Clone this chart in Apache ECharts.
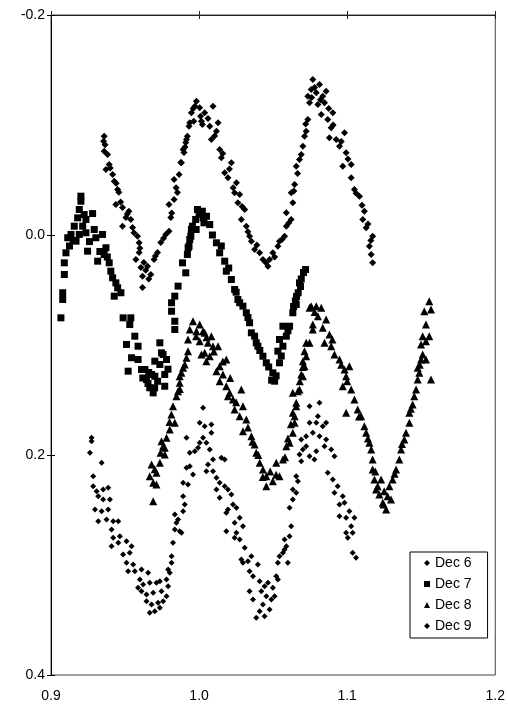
<!DOCTYPE html>
<html>
<head>
<meta charset="utf-8">
<script src="https://cdn.jsdelivr.net/npm/echarts@6/dist/echarts.min.js"></script>
<style>
html,body{margin:0;padding:0;background:#fff;}
#chart{width:508px;height:707px;}
</style>
</head>
<body>
<div id="chart"></div>
<script>
const seriesNames = ['Dec 6', 'Dec 7', 'Dec 8', 'Dec 9'];
const xTicks = [0.9, 1.0, 1.1, 1.2];
const yTicks = [-0.2, 0.0, 0.2, 0.4];

const dec6 = [
[0.9359,-0.0898],[0.9355,-0.0853],[0.9359,-0.0762],[0.9382,-0.0732],[0.9393,-0.0641],[0.9371,-0.0595],
[0.9416,-0.0550],[0.9427,-0.0489],[0.9450,-0.0414],[0.9458,-0.0389],[0.9438,-0.0277],[0.9483,-0.0250],
[0.9526,-0.0216],[0.9506,-0.0159],[0.9539,-0.0141],[0.9483,-0.0080],[0.9551,-0.0068],[0.9584,0.0011],
[0.9595,0.0071],[0.9595,0.0159],[0.9573,0.0223],[0.9627,0.0250],[0.9607,0.0295],[0.9652,0.0284],
[0.9618,0.0375],[0.9674,0.0359],[0.9618,0.0477],[0.9696,0.0223],[0.9719,0.0159],[0.9741,0.0068],
[0.9775,-0.0005],[0.9797,-0.0035],[0.9809,-0.0159],[0.9797,-0.0277],[0.9831,-0.0323],[0.9854,-0.0386],
[0.9831,-0.0505],[0.9865,-0.0550],[0.9876,-0.0659],[0.9898,-0.0750],[0.9910,-0.0841],[0.9921,-0.0898],
[0.9932,-0.0989],[0.9964,-0.1035],[1.0022,-0.1005],[0.9982,-0.1216],[0.9971,-0.1171],[0.9948,-0.1111],
[1.0004,-0.1156],[1.0038,-0.1111],[1.0094,-0.1171],[0.9937,-0.1020],[1.0016,-0.1035],[1.0072,-0.0989],
[1.0117,-0.0944],[1.0128,-0.1020],[1.0083,-0.0868],[0.9915,-0.0868],[0.9892,-0.0777],[0.9881,-0.0656],
[1.0139,-0.0777],[1.0150,-0.0702],[1.0218,-0.0656],[1.0173,-0.0565],[1.0195,-0.0520],[1.0252,-0.0475],
[1.0240,-0.0384],[1.0274,-0.0368],[1.0262,-0.0293],[1.0308,-0.0232],[1.0285,-0.0141],[1.0319,-0.0080],
[1.0341,0.0011],[1.0353,0.0056],[1.0375,0.0132],[1.0409,0.0162],[1.0431,0.0223],[1.0465,0.0284],
[1.0476,0.0223],[1.0498,0.0162],[1.0532,0.0102],[1.0543,0.0056],[1.0577,0.0011],[1.0589,-0.0080],
[1.0622,-0.0141],[1.0589,-0.0202],[1.0633,-0.0293],[1.0622,-0.0384],[1.0645,-0.0459],[1.0656,-0.0625],
[1.0678,-0.0686],[1.0690,-0.0732],[1.0701,-0.0807],[1.0712,-0.0898],[1.0723,-0.0944],[1.0734,-0.1050],
[1.0746,-0.1202],[1.0734,-0.1262],[1.0757,-0.1323],[1.0768,-0.1414],[1.0813,-0.1368],[1.0791,-0.1293],
[1.0835,-0.1262],[1.0858,-0.1307],[1.0802,-0.1186],[1.0847,-0.1202],[1.0825,-0.1095],[1.0903,-0.1111],
[1.0869,-0.1050],[1.0892,-0.0975],[1.0880,-0.0884],[1.0926,-0.0868],[1.0982,-0.0929],[1.0948,-0.0807],
[1.0993,-0.0747],[1.0970,-0.0625],[1.1027,-0.0641],[1.1027,-0.0520],[1.1049,-0.0414],[1.1083,-0.0353],
[1.1116,-0.0216],[1.1105,-0.0141],[1.1128,-0.0065],[1.1172,0.0011],[1.1150,0.0102],[1.1162,0.0177],
[1.1172,0.0253],
[0.9365,-0.0820],[0.9400,-0.0610],[0.9440,-0.0470],[0.9470,-0.0300],[0.9515,-0.0190],[0.9560,-0.0020],
[0.9600,0.0120],[0.9640,0.0320],[0.9660,0.0400],[0.9705,0.0190],[0.9760,0.0030],[0.9815,-0.0200],
[0.9845,-0.0430],[0.9905,-0.0800],[0.9960,-0.1150],[1.0010,-0.1080],[1.0060,-0.1060],[1.0105,-0.0900],
[1.0160,-0.0740],[1.0205,-0.0600],[1.0230,-0.0430],[1.0290,-0.0260],[1.0330,-0.0030],[1.0390,0.0090],
[1.0450,0.0250],[1.0510,0.0200],[1.0560,0.0040],[1.0605,-0.0110],[1.0640,-0.0400],[1.0665,-0.0560],
[1.0720,-0.1010],[1.0760,-0.1250],[1.0780,-0.1340],[1.0820,-0.1230],[1.0875,-0.1150],[1.0905,-0.1000],
[1.0960,-0.0850],[1.1005,-0.0690],[1.1060,-0.0380],[1.1100,-0.0270],[1.1140,-0.0100],[1.1160,0.0050]
];

const dec7 = [
[0.9202,-0.0353],[0.9202,-0.0307],[0.9191,-0.0232],[0.9224,-0.0186],[0.9281,-0.0195],[0.9180,-0.0156],
[0.9236,-0.0141],[0.9157,-0.0080],[0.9214,-0.0080],[0.9292,-0.0050],[0.9135,-0.0005],[0.9191,-0.0005],
[0.9236,-0.0020],[0.9303,0.0025],[0.9348,-0.0005],[0.9113,0.0025],[0.9169,0.0056],[0.9101,0.0162],
[0.9247,0.0147],[0.9371,0.0116],[0.9359,0.0177],[0.9090,0.0253],[0.9315,0.0238],[0.9393,0.0253],
[0.9404,0.0329],[0.9090,0.0359],[0.9416,0.0389],[0.9438,0.0435],[0.9079,0.0525],[0.9472,0.0525],
[0.9427,0.0556],[0.9079,0.0586],[0.9067,0.0753],[0.9539,0.0753],[0.9487,0.0753],[0.9532,0.0814],
[0.9510,0.0995],[0.9566,0.0920],[0.9588,0.1011],[0.9544,0.1116],[0.9521,0.1238],[0.9588,0.1132],
[0.9611,0.1223],[0.9645,0.1314],[0.9667,0.1389],[0.9690,0.1435],[0.9701,0.1284],[0.9735,0.0980],
[0.9757,0.1086],[0.9780,0.1132],[0.9735,0.1177],[0.9768,0.1268],[0.9768,0.1375],[0.9634,0.1223],
[0.9679,0.1268],[0.9701,0.1147],[0.9746,0.1071],[0.9814,0.0616],[0.9814,0.0693],[0.9836,0.0784],
[0.9836,0.0859],[0.9858,0.0465],[0.9836,0.0556],[0.9888,0.0253],[0.9910,0.0344],[0.9921,0.0177],
[0.9932,0.0102],[0.9944,0.0011],[0.9955,-0.0080],[0.9977,-0.0141],[0.9989,-0.0232],[1.0022,-0.0216],
[1.0033,-0.0111],[1.0027,-0.0156],[1.0072,-0.0095],[0.9948,-0.0050],[0.9937,0.0041],[0.9926,0.0116],
[1.0117,0.0071],[1.0139,0.0162],[1.0173,0.0238],[1.0184,0.0329],[1.0218,0.0405],[1.0240,0.0495],
[1.0262,0.0586],[1.0274,0.0616],[1.0296,0.0647],[1.0319,0.0707],[1.0341,0.0798],[1.0353,0.0889],
[1.0375,0.0920],[1.0386,0.0980],[1.0397,0.1011],[1.0431,0.1102],[1.0454,0.1162],[1.0498,0.1253],
[1.0510,0.1329],[1.0543,0.1162],[1.0532,0.1056],[1.0566,0.1011],[1.0543,0.0950],[1.0566,0.0829],
[1.0589,0.0920],[1.0611,0.0829],[1.0633,0.0707],[1.0638,0.0650],[1.0656,0.0632],[1.0658,0.0559],
[1.0669,0.0525],[1.0685,0.0468],[1.0678,0.0435],[1.0705,0.0341],[1.0719,0.0314],
[0.9150,0.0050],[0.9125,0.0100],[0.9260,0.0060],[0.9330,0.0150],[0.9380,0.0200],[0.9450,0.0480],
[0.9620,0.1300],[0.9655,0.1350],[0.9700,0.1390],[0.9720,0.1330],[0.9660,0.1250],[0.9790,0.1220],
[0.9980,-0.0050],[1.0050,-0.0170],[1.0000,-0.0190],[1.0090,0.0000],[1.0150,0.0100],[1.0200,0.0300],
[1.0250,0.0520],[1.0330,0.0750],[1.0410,0.1050],[1.0470,0.1200],[1.0520,0.1280],[1.0490,0.1320],
[1.0555,0.1100],[1.0600,0.0870],[1.0650,0.0600],[1.0690,0.0400]
];

const dec8 = [
[0.9959,0.0784],[1.0004,0.0814],[0.9937,0.0859],[0.9982,0.0875],[1.0038,0.0889],[1.0083,0.0920],
[0.9925,0.0950],[1.0004,0.0965],[1.0060,0.0980],[1.0128,0.1011],[0.9925,0.1056],[1.0038,0.1071],
[1.0072,0.1102],[0.9915,0.1116],[0.9903,0.1177],[1.0184,0.1132],[1.0139,0.1193],[1.0117,0.1238],
[1.0161,0.1268],[0.9881,0.1253],[0.9869,0.1344],[1.0139,0.1329],[1.0184,0.1375],[0.9858,0.1420],
[1.0206,0.1435],[1.0285,0.1405],[1.0027,0.0875],[1.0094,0.1011],[1.0016,0.1086],[1.0049,0.1147],
[0.9892,0.1207],[0.9869,0.1284],[0.9847,0.1465],[1.0195,0.1465],[1.0229,0.1495],[0.9824,0.1556],
[1.0240,0.1586],[1.0296,0.1556],[0.9813,0.1632],[1.0274,0.1647],[0.9836,0.1707],[1.0319,0.1677],
[0.9802,0.1768],[1.0296,0.1784],[0.9780,0.1844],[1.0353,0.1829],[0.9757,0.1920],[1.0375,0.1905],
[0.9768,0.1995],[1.0386,0.1980],[0.9735,0.2071],[0.9679,0.2086],[1.0409,0.2071],[0.9712,0.2162],
[1.0431,0.2132],[0.9667,0.2193],[0.9690,0.2253],[1.0454,0.2193],[1.0521,0.2071],[1.0566,0.2041],
[1.0498,0.2238],[1.0543,0.2193],[1.0454,0.2284],[1.0589,0.1920],[1.0633,0.1798],[1.0611,0.1889],
[1.0645,0.1647],[1.0656,0.1556],[1.0633,0.1435],[1.0678,0.1405],[1.0701,0.1284],[1.0712,0.1193],
[1.0723,0.1102],[1.0746,0.0980],[1.0768,0.0859],[1.0757,0.0647],[1.0791,0.0647],[0.9690,0.2420],
[0.9712,0.2268],[0.9768,0.1934],[0.9746,0.1875],[1.0746,0.0662],[1.0825,0.0662],[1.0802,0.0738],
[1.0858,0.0768],[1.0768,0.0814],[1.0835,0.0844],[1.0880,0.0905],[1.0723,0.0980],[1.0847,0.0980],
[1.0892,0.1011],[1.0712,0.1056],[1.0914,0.1086],[1.0948,0.1132],[1.0701,0.1147],[1.1015,0.1193],
[1.0982,0.1223],[1.0690,0.1268],[1.0993,0.1284],[1.0970,0.1375],[1.1027,0.1405],[1.0667,0.1420],
[1.1049,0.1495],[1.0993,0.1616],[1.0656,0.1525],[1.1071,0.1586],[1.1094,0.1647],[1.0633,0.1616],
[1.1116,0.1738],[1.1128,0.1798],[1.0645,0.1707],[1.1150,0.1889],[1.1162,0.1950],[1.1172,0.2041],
[1.1172,0.2132],[1.1184,0.2223],[1.1206,0.2284],[1.1217,0.2359],[1.1240,0.2435],[1.1263,0.2495],
[1.1273,0.2375],[1.1285,0.2284],[1.1307,0.2223],[1.1330,0.2132],[1.1352,0.2041],[1.1364,0.1950],
[1.1386,0.1859],[1.1397,0.1798],[1.1420,0.1707],[1.1420,0.1616],[1.1442,0.1541],[1.1453,0.1465],
[1.1465,0.1405],[1.1476,0.1314],[1.1487,0.1253],[1.1476,0.1207],[1.1499,0.1132],[1.1510,0.1086],
[1.1532,0.1132],[1.1499,0.0995],[1.1532,0.0965],[1.1554,0.0920],[1.1510,0.0920],[1.1532,0.0814],
[1.1521,0.0693],[1.1554,0.0602],[1.1566,0.0677],[1.1566,0.1314],[1.1195,0.2314],[1.1246,0.2450],
[1.1229,0.2223],[1.1296,0.2405],
[0.9980,0.0920],[1.0050,0.0930],[1.0100,0.1060],[1.0160,0.1150],[1.0210,0.1300],[1.0250,0.1520],
[1.0330,0.1750],[1.0360,0.1880],[1.0400,0.2000],[1.0430,0.2200],[1.0480,0.2150],[1.0520,0.2180],
[1.0580,0.2020],[1.0600,0.1850],[1.0620,0.1720],[1.0680,0.1330],[1.0700,0.1200],[1.0780,0.0700],
[1.0900,0.0950],[1.0960,0.1180],[1.1000,0.1330],[1.1080,0.1650],[1.1140,0.1850],[1.1190,0.2150],
[1.1250,0.2330],[1.1320,0.2170],[1.1370,0.1900],[1.1430,0.1580],[1.1490,0.1180],[0.9800,0.1700],
[0.9740,0.1980],[0.9700,0.2130],[0.9870,0.1400]
];

const dec9 = [
[0.9274,0.1844],[0.9274,0.1875],[0.9263,0.1980],[0.9342,0.2071],[0.9285,0.2193],[0.9285,0.2284],
[0.9308,0.2329],[0.9352,0.2314],[0.9386,0.2298],[0.9319,0.2375],[0.9352,0.2405],[0.9398,0.2405],
[0.9297,0.2495],[0.9342,0.2511],[0.9386,0.2495],[0.9319,0.2602],[0.9375,0.2586],[0.9420,0.2602],
[0.9454,0.2602],[0.9409,0.2677],[0.9420,0.2753],[0.9465,0.2738],[0.9510,0.2784],[0.9409,0.2829],
[0.9454,0.2798],[0.9544,0.2829],[0.9487,0.2905],[0.9532,0.2889],[0.9510,0.2980],[0.9555,0.2995],
[0.9521,0.3056],[0.9566,0.3056],[0.9611,0.3041],[0.9656,0.3071],[0.9600,0.3132],[0.9588,0.3207],
[0.9622,0.3177],[0.9667,0.3162],[0.9712,0.3162],[0.9735,0.3147],[0.9611,0.3238],[0.9645,0.3268],
[0.9690,0.3253],[0.9746,0.3238],[0.9645,0.3329],[0.9679,0.3359],[0.9723,0.3344],[0.9757,0.3329],
[0.9667,0.3435],[0.9701,0.3420],[0.9735,0.3389],[0.9780,0.3284],[0.9791,0.3193],[0.9780,0.3132],
[0.9802,0.3071],[0.9791,0.3041],[0.9814,0.2980],[0.9814,0.2920],[0.9824,0.2798],[0.9836,0.2677],
[0.9847,0.2616],[0.9869,0.2693],[0.9836,0.2541],[0.9858,0.2586],[0.9881,0.2707],[0.9892,0.2511],
[0.9892,0.2375],[0.9903,0.2450],[0.9892,0.2253],[0.9925,0.2268],[0.9915,0.2116],[0.9937,0.2102],
[0.9959,0.2177],[0.9937,0.1980],[0.9971,0.1965],[0.9993,0.1935],[0.9915,0.1844],[1.0004,0.1889],
[1.0027,0.1844],[1.0049,0.1889],[1.0004,0.1707],[1.0038,0.1738],[1.0083,0.1723],[1.0083,0.1798],
[1.0027,0.1571],[1.0072,0.1950],[1.0094,0.2041],[1.0060,0.2086],[1.0049,0.2147],[1.0094,0.2147],
[1.0150,0.2025],[1.0173,0.2041],[1.0117,0.2207],[1.0139,0.2253],[1.0173,0.2284],[1.0117,0.2314],
[1.0195,0.2314],[1.0218,0.2359],[1.0139,0.2389],[1.0229,0.2450],[1.0195,0.2495],[1.0252,0.2480],
[1.0184,0.2525],[1.0274,0.2571],[1.0240,0.2616],[1.0296,0.2647],[1.0184,0.2693],[1.0252,0.2707],
[1.0274,0.2768],[1.0240,0.2753],[1.0308,0.2844],[1.0285,0.2950],[1.0330,0.2965],[1.0353,0.2920],
[1.0296,0.2980],[1.0397,0.2995],[1.0341,0.3056],[1.0364,0.3102],[1.0409,0.3147],[1.0442,0.3193],
[1.0465,0.3162],[1.0498,0.3207],[1.0532,0.3132],[1.0341,0.3238],[1.0420,0.3238],[1.0454,0.3284],
[1.0364,0.3314],[1.0488,0.3314],[1.0510,0.3284],[1.0431,0.3359],[1.0476,0.3405],[1.0409,0.3420],
[1.0442,0.3465],[1.0386,0.3480],[1.0521,0.3102],[1.0532,0.2980],[1.0543,0.2920],[1.0566,0.2889],
[1.0599,0.2980],[1.0577,0.2859],[1.0589,0.2829],[1.0577,0.2768],[1.0611,0.2738],[1.0622,0.2647],
[1.0611,0.2480],[1.0633,0.2405],[1.0656,0.2344],[1.0633,0.2314],[1.0667,0.2238],[1.0656,0.2193],
[1.0690,0.2056],[1.0678,0.1995],[1.0701,0.1950],[1.0723,0.1920],[1.0690,0.1859],[1.0723,0.1829],
[1.0768,0.1798],[1.0746,0.1707],[1.0791,0.1707],[1.0802,0.1647],[1.0746,0.1556],[1.0813,0.1525],
[1.0835,0.1738],[1.0858,0.1707],[1.0813,0.1829],[1.0858,0.1859],[1.0847,0.1920],[1.0791,0.1965],
[1.0779,0.2041],[1.0746,0.2011],[1.0892,0.1950],[1.0914,0.2011],[1.0869,0.2162],[1.0903,0.2223],
[1.0936,0.2284],[1.0914,0.2344],[1.0970,0.2375],[1.0948,0.2450],[1.0982,0.2435],[1.1015,0.2511],
[1.0948,0.2556],[1.0993,0.2571],[1.1049,0.2571],[1.1027,0.2647],[1.0993,0.2707],[1.1037,0.2707],
[1.1004,0.2753],[1.1037,0.2889],[1.1060,0.2935]
];

const chart = echarts.init(document.getElementById('chart'), null, {renderer: 'canvas'});
const FONT = 'Liberation Sans, Arial, sans-serif';
const xMin = xTicks[0], xMax = xTicks[xTicks.length - 1];
const yMin = yTicks[0], yMax = yTicks[yTicks.length - 1];
const fmt = v => (Math.abs(v) < 1e-9 ? 0 : v).toFixed(1);

function xAx(extra) {
  return Object.assign({
    type: 'value', min: xMin, max: xMax, interval: 0.1,
    splitLine: {show: false},
    axisLine: {show: false, onZero: false}, axisTick: {show: false}, axisLabel: {show: false}
  }, extra);
}
function yAx(extra) {
  return Object.assign({
    type: 'value', min: yMin, max: yMax, interval: 0.2, inverse: true,
    splitLine: {show: false},
    axisLine: {show: false, onZero: false}, axisTick: {show: false}, axisLabel: {show: false}
  }, extra);
}

const symbols = ['diamond', 'rect', 'triangle', 'diamond'];
const sizes = [7, 7, 8, 6];
const datas = [dec6, dec7, dec8, dec9];

chart.setOption({
  animation: false,
  backgroundColor: '#fff',
  grid: {left: 51, right: 12, top: 15, bottom: 32, show: true, borderColor: '#444', borderWidth: 1, backgroundColor: 'transparent'},
  legend: {
    orient: 'vertical', left: 410, top: 552,
    data: seriesNames.map((n, i) => ({name: n, icon: symbols[i]})),
    itemWidth: 6, itemHeight: 6, itemGap: 7,
    padding: [4, 16, 5, 14],
    borderColor: '#000', borderWidth: 1, backgroundColor: '#fff',
    textStyle: {fontFamily: FONT, fontSize: 14, color: '#000'}
  },
  xAxis: [
    xAx({position: 'bottom', axisLabel: {show: true, formatter: fmt, fontFamily: FONT, fontSize: 14, color: '#000', margin: 14}}),
    xAx({position: 'top', axisLine: {show: true, onZero: false, lineStyle: {color: '#222', width: 1}}, axisTick: {show: true, length: 4, lineStyle: {color: '#222'}}}),
    xAx({position: 'top', axisTick: {show: true, inside: true, length: 4, lineStyle: {color: '#222'}}})
  ],
  yAxis: [
    yAx({position: 'left', axisLine: {show: true, onZero: false, lineStyle: {color: '#000', width: 1}}, axisTick: {show: true, length: 4, lineStyle: {color: '#000'}},
         axisLabel: {show: true, formatter: fmt, fontFamily: FONT, fontSize: 14, color: '#000', margin: 6}}),
    yAx({position: 'left', axisTick: {show: true, inside: true, length: 4, lineStyle: {color: '#000'}}})
  ],
  series: seriesNames.map((n, i) => ({
    name: n, type: 'scatter', xAxisIndex: 0, yAxisIndex: 0,
    symbol: symbols[i], symbolSize: sizes[i],
    itemStyle: {color: '#000', opacity: 1},
    data: datas[i]
  }))
});
</script>
</body>
</html>
